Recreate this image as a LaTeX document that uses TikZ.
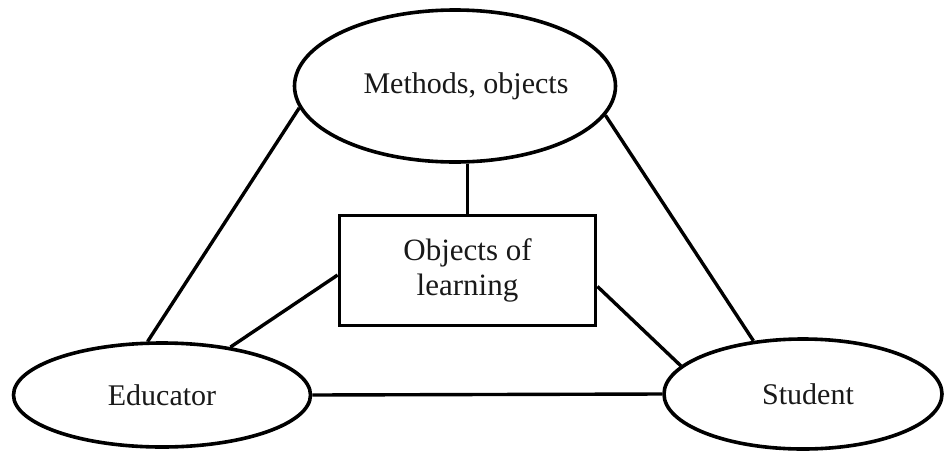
\documentclass[tikz,border=0pt]{standalone}
\usepackage{fontspec}
\setmainfont{Liberation Serif}
\usetikzlibrary{shapes.geometric}
\tikzset{
  oval/.style={draw=black, ellipse, line width=3.6pt, inner sep=0pt, fill=white,
    font=\fontsize{30}{34}\selectfont, text=black!90},
  boxnode/.style={draw=black, rectangle, line width=3.8pt, inner sep=0pt, fill=white,
    align=center, font=\fontsize{31}{35}\selectfont, text=black!90},
  link/.style={draw=black, line width=3.4pt}
}
\begin{document}
\begin{tikzpicture}[x=1pt,y=-1pt]
\useasboundingbox (0,0) rectangle (944,450);
\node[oval, minimum width=300pt, minimum height=152pt] (top) at (455,86) {\hspace*{22pt}Methods, objects};
\node[oval, minimum width=297pt, minimum height=104pt] (edu) at (162,395) {Educator};
\node[oval, minimum width=278pt, minimum height=110pt] (stu) at (803,394) {\hspace*{10pt}Student};
\node[boxnode, minimum width=256pt, minimum height=110pt] (obj) at (467.5,270.5) {Objects of\\learning};
\draw[link] (top.188.9) -- (edu.105.5);
\draw[link] (top.349.4) -- (stu.133.4);
\draw[link] (obj.north) -- (obj.north |- top.south);
\draw[link] (obj.182.9) -- (edu.35.2);
\draw[link] (obj.353.7) -- (stu.167.4);
\draw[link] (edu.east) -- (stu.west);
\end{tikzpicture}
\end{document}
